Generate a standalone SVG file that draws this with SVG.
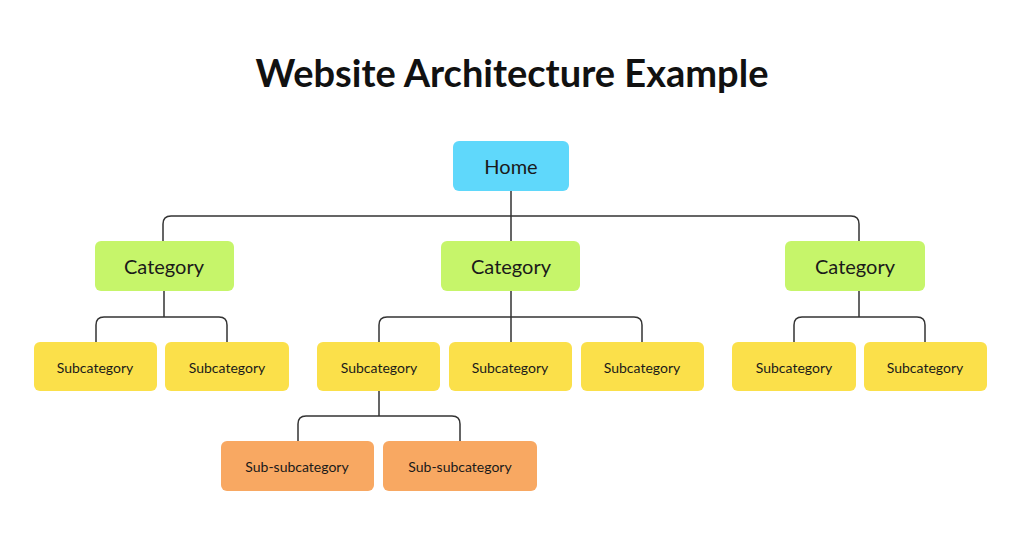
<svg xmlns="http://www.w3.org/2000/svg" width="1024" height="549" viewBox="0 0 1024 549">
<style>
text{font-family:"Lato","Liberation Sans",sans-serif;fill:#1a1a1a;text-anchor:middle;dominant-baseline:central}
.c path{fill:none;stroke:#333;stroke-width:1.5}
.h{fill:#5fd8fb}.g{fill:#c6f56a}.s{fill:#fbe04a}.o{fill:#f8a862}
.big{font-size:20px}.sm{font-size:14px}
</style>
<rect width="1024" height="549" fill="#fff"/>
<text x="512" y="72" style="font-size:38px;font-weight:bold;fill:#111">Website Architecture Example</text>
<g class="c">
<path d="M511 191V241M163 241V224Q163 216 171 216H851Q859 216 859 224V241"/>
<path d="M164 291V317M96 342V325Q96 317 104 317H219Q227 317 227 325V342"/>
<path d="M511 291V342M379 342V325Q379 317 387 317H634Q642 317 642 325V342"/>
<path d="M859 291V317M794 342V325Q794 317 802 317H917Q925 317 925 325V342"/>
<path d="M379 391V416M298 441V424Q298 416 306 416H452Q460 416 460 424V441"/>
</g>
<g id="home"><rect class="h" x="453" y="141" width="116" height="50" rx="6"/><text x="511" y="166" class="big">Home</text></g>
<g id="cat1"><rect class="g" x="95" y="241" width="139" height="50" rx="6"/><text x="164" y="266" class="big">Category</text></g>
<g id="cat2"><rect class="g" x="441" y="241" width="139" height="50" rx="6"/><text x="511" y="266" class="big">Category</text></g>
<g id="cat3"><rect class="g" x="785" y="241" width="140" height="50" rx="6"/><text x="855" y="266" class="big">Category</text></g>
<g id="sub1"><rect class="s" x="34" y="342" width="123" height="49" rx="6"/><text x="95" y="367" class="sm">Subcategory</text></g>
<g id="sub2"><rect class="s" x="165" y="342" width="124" height="49" rx="6"/><text x="227" y="367" class="sm">Subcategory</text></g>
<g id="sub3"><rect class="s" x="317" y="342" width="123" height="49" rx="6"/><text x="379" y="367" class="sm">Subcategory</text></g>
<g id="sub4"><rect class="s" x="449" y="342" width="123" height="49" rx="6"/><text x="510" y="367" class="sm">Subcategory</text></g>
<g id="sub5"><rect class="s" x="581" y="342" width="123" height="49" rx="6"/><text x="642" y="367" class="sm">Subcategory</text></g>
<g id="sub6"><rect class="s" x="732" y="342" width="124" height="49" rx="6"/><text x="794" y="367" class="sm">Subcategory</text></g>
<g id="sub7"><rect class="s" x="864" y="342" width="123" height="49" rx="6"/><text x="925" y="367" class="sm">Subcategory</text></g>
<g id="ss1"><rect class="o" x="221" y="441" width="153" height="50" rx="6"/><text x="297" y="466" class="sm">Sub-subcategory</text></g>
<g id="ss2"><rect class="o" x="383" y="441" width="154" height="50" rx="6"/><text x="460" y="466" class="sm">Sub-subcategory</text></g>
</svg>
